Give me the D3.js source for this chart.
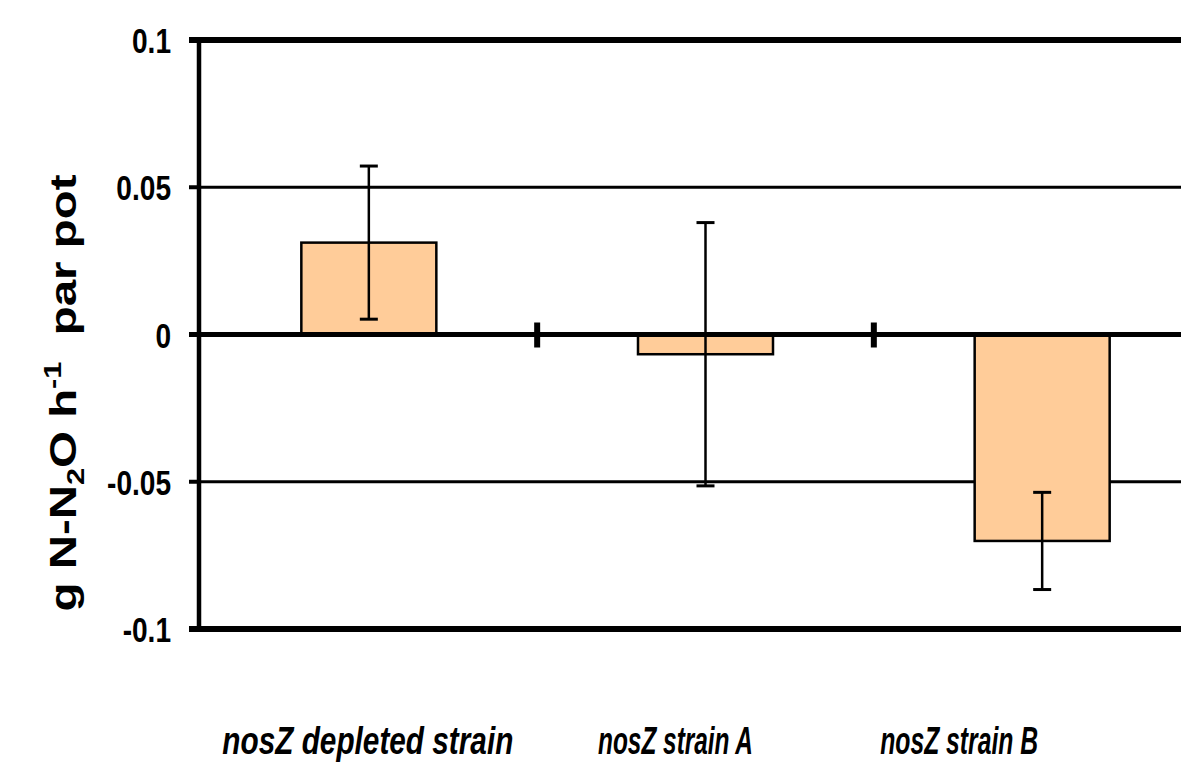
<!DOCTYPE html>
<html>
<head>
<meta charset="utf-8">
<script src="https://d3js.org/d3.v7.min.js"></script>
<style>
	body { margin: 0; background: #fff; }
	text { font-family: Arial, "Liberation Sans", sans-serif; font-weight: bold; fill: #000; }
</style>
</head>
<body>
<div id="chart"></div>
<script>
// chart data
var categories = ["nosZ depleted strain", "nosZ strain A", "nosZ strain B"]
var values = [0.0312, -0.0067, -0.0701]
var errors = [0.026, 0.0447, 0.0165]
var yTicks = [0.1, 0.05, 0, -0.05, -0.1]
var yTickLabels = ["0.1", "0.05", "0", "-0.05", "-0.1"]

// the picture is a bit squashed horizontally, so is the text
var squash = 0.78
var labelSquash = 0.72
var labelShift = [-1, -30, -83]
var labelWidth = [291, 155, 158]

var width = 1181
var height = 762

var svg = d3.select("#chart")
	.append("svg")
	.attr("width", width)
	.attr("height", height)

var x = d3.scaleBand()
	.domain(categories)
	.range([200.5, 1210.5])

var y = d3.scaleLinear()
	.domain([-0.1, 0.1])
	.range([629, 40])

var left = 199

// thin grid lines
svg.selectAll(".grid")
	.data(yTicks.filter(function(d){ return Math.abs(d) == 0.05 }))
	.enter()
	.append("line")
	.attr("class", "grid")
	.attr("x1", left).attr("x2", width)
	.attr("y1", function(d){ return y(d) }).attr("y2", function(d){ return y(d) })
	.style("stroke", "#000")
	.style("stroke-width", 3)

// top and bottom frame lines
svg.selectAll(".frame")
	.data([0.1, -0.1])
	.enter()
	.append("line")
	.attr("class", "frame")
	.attr("x1", left).attr("x2", width)
	.attr("y1", function(d){ return y(d) }).attr("y2", function(d){ return y(d) })
	.style("stroke", "#000")
	.style("stroke-width", 6)

// bars
var barW = 135
svg.selectAll(".bar")
	.data(values)
	.enter()
	.append("rect")
	.attr("class", "bar")
	.attr("x", function(d, i){ return x(categories[i]) + x.bandwidth() / 2 - barW / 2 })
	.attr("y", function(d){ return y(Math.max(0, d)) })
	.attr("width", barW)
	.attr("height", function(d){ return Math.abs(y(d) - y(0)) })
	.style("fill", "#ffcc99")
	.style("stroke", "#000")
	.style("stroke-width", 2.5)

// zero line
svg.append("line")
	.attr("x1", left).attr("x2", width)
	.attr("y1", y(0)).attr("y2", y(0))
	.style("stroke", "#000")
	.style("stroke-width", 5)

// category separator ticks on the zero line
svg.selectAll(".ctick")
	.data(categories.slice(1))
	.enter()
	.append("line")
	.attr("class", "ctick")
	.attr("x1", function(d){ return x(d) }).attr("x2", function(d){ return x(d) })
	.attr("y1", y(0) - 12).attr("y2", y(0) + 13)
	.style("stroke", "#000")
	.style("stroke-width", 6)

// y axis line and ticks
svg.append("line")
	.attr("x1", left).attr("x2", left)
	.attr("y1", y(0.1) - 3).attr("y2", y(-0.1) + 3)
	.style("stroke", "#000")
	.style("stroke-width", 4.5)

svg.selectAll(".ytick")
	.data(yTicks)
	.enter()
	.append("line")
	.attr("class", "ytick")
	.attr("x1", 189).attr("x2", left)
	.attr("y1", function(d){ return y(d) }).attr("y2", function(d){ return y(d) })
	.style("stroke", "#000")
	.style("stroke-width", function(d){ return Math.abs(d) == 0.1 ? 6 : (d == 0 ? 5 : 4) })

svg.selectAll(".ylab")
	.data(yTicks)
	.enter()
	.append("text")
	.attr("class", "ylab")
	.attr("transform", function(d){ return "translate(171," + (y(d) + 13) + ") scale(" + squash + ",1)" })
	.attr("text-anchor", "end")
	.style("font-size", "36px")
	.text(function(d, i){ return yTickLabels[i] })

// error bars
var err = svg.selectAll(".err")
	.data(values)
	.enter()
	.append("g")
	.attr("class", "err")
	.attr("transform", function(d, i){ return "translate(" + (x(categories[i]) + x.bandwidth() / 2) + ",0)" })

err.append("line")
	.attr("y1", function(d, i){ return y(d + errors[i]) })
	.attr("y2", function(d, i){ return y(d - errors[i]) })
	.style("stroke", "#000").style("stroke-width", 2.5)

err.selectAll(".cap")
	.data(function(d, i){ return [d + errors[i], d - errors[i]] })
	.enter()
	.append("line")
	.attr("class", "cap")
	.attr("x1", -9).attr("x2", 9)
	.attr("y1", function(d){ return y(d) }).attr("y2", function(d){ return y(d) })
	.style("stroke", "#000").style("stroke-width", 3)

// category labels
svg.selectAll(".clab")
	.data(categories)
	.enter()
	.append("text")
	.attr("class", "clab")
	.attr("transform", function(d, i){ return "translate(" + (x(d) + x.bandwidth() / 2 + labelShift[i]) + ",754) scale(" + labelSquash + ",1)" })
	.attr("text-anchor", "middle")
	.attr("textLength", function(d, i){ return labelWidth[i] / labelSquash })
	.attr("lengthAdjust", "spacingAndGlyphs")
	.style("font-size", "38px")
	.style("font-style", "italic")
	.text(function(d){ return d })

// y axis title
var title = svg.append("text")
	.attr("transform", "translate(76,393) rotate(-90) scale(" + (1 / squash) + ",1)")
	.attr("text-anchor", "middle")
	.style("font-size", "37px")
	.style("white-space", "pre")

title.append("tspan").text("g N-N")
title.append("tspan").text("2").attr("dy", 8).style("font-size", "24px")
title.append("tspan").text("O h").attr("dy", -8)
title.append("tspan").text("-1").attr("dy", -15).style("font-size", "24px")
title.append("tspan").text("  par pot").attr("dy", 15)
</script>
</body>
</html>
